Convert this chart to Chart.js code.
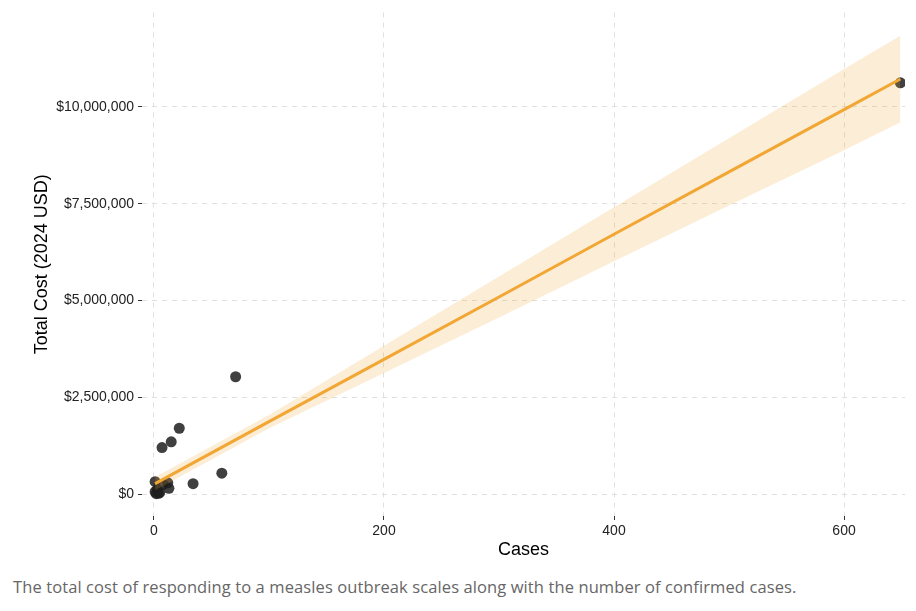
<!DOCTYPE html>
<html>
<head>
<meta charset="utf-8">
<script src="https://cdn.jsdelivr.net/npm/chart.js@4.4.1/dist/chart.umd.min.js"></script>
<style>
  html, body { margin: 0; padding: 0; background: #fff; }
  #wrap { position: relative; width: 916px; height: 565px; }
  #caption {
    position: absolute; left: 13px; top: 575px;
    font-family: "Open Sans", sans-serif; font-size: 16.5px; color: #666;
    letter-spacing: 0.1px; white-space: nowrap;
  }
</style>
</head>
<body>
<div id="wrap"><canvas id="chart"></canvas></div>
<div id="caption">The total cost of responding to a measles outbreak scales along with the number of confirmed cases.</div>
<script>
// Outbreaks: confirmed cases vs total response cost (2024 USD)
const outbreakCases = [1, 1, 2, 3, 4, 5, 7, 8, 12, 13, 15, 22, 34, 59, 71, 649];
const outbreakCost = [320000, 60000, 10000, 120000, 20000, 40000, 1200000, 250000,
    290000, 150000, 1350000, 1700000, 270000, 540000, 3030000, 10620000];

// Linear fit and its confidence band
const fitCases = [1, 100, 200, 300, 400, 500, 600, 649];
const fitCost = [270000, 1870000, 3480000, 5090000, 6710000, 8320000, 9930000, 10720000];
const fitLower = [100000, 1700000, 3130000, 4560000, 6010000, 7450000, 8880000, 9600000];
const fitUpper = [440000, 2040000, 3830000, 5620000, 7410000, 9190000, 10980000, 11840000];

const xTicks = [0, 200, 400, 600];
const yTicks = [0, 2500000, 5000000, 7500000, 10000000];

const toXY = (xs, ys) => xs.map((x, i) => ({ x: x, y: ys[i] }));

const tickFont = { family: 'Liberation Sans, Arial, sans-serif', size: 14 };
const titleFont = { family: 'Liberation Sans, Arial, sans-serif', size: 18 };

const gridOpts = {
    color: '#e0e0e0',
    lineWidth: 1,
    tickLength: 4,
    tickColor: '#333',
    tickWidth: 1
};

const canvas = document.getElementById('chart');
canvas.width = 916;
canvas.height = 565;

new Chart(canvas, {
    type: 'scatter',
    data: {
        datasets: [
            {
                type: 'line',
                label: 'Fit',
                data: toXY(fitCases, fitCost),
                borderColor: '#f2a634',
                borderWidth: 3,
                pointRadius: 0,
                fill: false,
                order: 0
            },
            {
                type: 'line',
                label: 'Upper',
                data: toXY(fitCases, fitUpper),
                borderWidth: 0,
                borderColor: 'rgba(0,0,0,0)',
                pointRadius: 0,
                backgroundColor: 'rgba(242, 166, 52, 0.2)',
                fill: '+1',
                order: 1
            },
            {
                type: 'line',
                label: 'Lower',
                data: toXY(fitCases, fitLower),
                borderWidth: 0,
                borderColor: 'rgba(0,0,0,0)',
                pointRadius: 0,
                fill: false,
                order: 1
            },
            {
                label: 'Outbreaks',
                data: toXY(outbreakCases, outbreakCost),
                backgroundColor: 'rgba(30, 30, 30, 0.85)',
                borderWidth: 0,
                pointRadius: 5.5,
                clip: { left: 10, top: 10, right: 0, bottom: 10 },
                order: 3
            }
        ]
    },
    options: {
        responsive: false,
        animation: false,
        events: [],
        layout: { padding: { left: 0, right: 11, top: 10, bottom: 0 } },
        plugins: {
            legend: { display: false },
            tooltip: { enabled: false },
            filler: { drawTime: 'beforeDatasetDraw' }
        },
        scales: {
            x: {
                type: 'linear',
                min: -10.4,
                max: 653,
                grid: gridOpts,
                border: { display: false, dash: [5, 5] },
                ticks: { font: tickFont, color: '#222', padding: 3 },
                afterBuildTicks: scale => { scale.ticks = xTicks.map(v => ({ value: v })); },
                afterFit: scale => { scale.height = 49; },
                title: {
                    display: true,
                    text: 'Cases',
                    font: titleFont,
                    color: '#000',
                    padding: { top: 0, bottom: 4 }
                }
            },
            y: {
                type: 'linear',
                min: -566000,
                max: 12440000,
                grid: gridOpts,
                border: { display: false, dash: [5, 5] },
                ticks: {
                    font: tickFont,
                    color: '#222',
                    padding: 4,
                    callback: v => '$' + v.toLocaleString('en-US')
                },
                afterBuildTicks: scale => { scale.ticks = yTicks.map(v => ({ value: v })); },
                afterFit: scale => { scale.width = 142; },
                title: {
                    display: true,
                    text: 'Total Cost (2024 USD)',
                    font: titleFont,
                    color: '#000',
                    padding: { top: 31, bottom: 0 }
                }
            }
        }
    }
});
</script>
</body>
</html>
